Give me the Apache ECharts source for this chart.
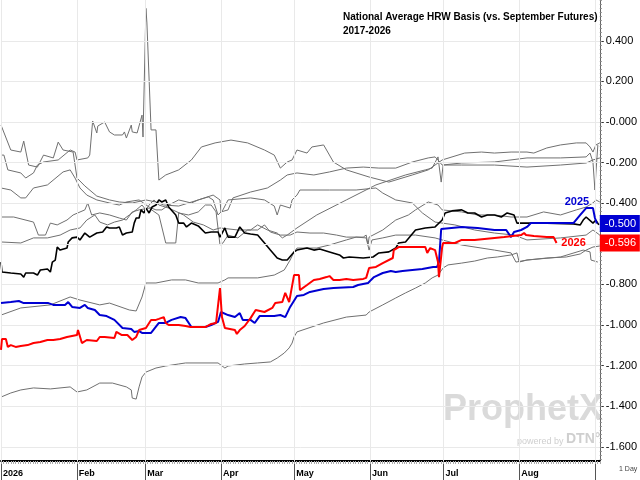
<!DOCTYPE html>
<html><head><meta charset="utf-8">
<script src="https://cdn.jsdelivr.net/npm/echarts@6/dist/echarts.min.js"></script>
<style>html,body{margin:0;padding:0;background:#fff}#c{width:640px;height:480px}</style>
</head><body><div id="c"></div>
<script>
// ---- axis / category data ----
const monthDays = [0, 31, 59, 90, 120, 151, 181, 212, 243];
const monthNames = ['2026', 'Feb', 'Mar', 'Apr', 'May', 'Jun', 'Jul', 'Aug', 'Sep'];
const yTicks = [0.4, 0.2, 0, -0.2, -0.4, -0.6, -0.8, -1.0, -1.2, -1.4, -1.6];

// ---- series values: [day of year, basis $/bu] ----
const s2017 = [[0,-0.015],[4,-0.138],[8.1,-0.148],[9.3,-0.094],[11.3,-0.212],[14.9,-0.222],[17.4,-0.163],[21.4,-0.177],[23.4,-0.099],[25.4,-0.138],[29.5,-0.148],[31.1,-0.276],[34.3,-0.315],[39.2,-0.365],[44.4,-0.384],[48.4,-0.394],[53.7,-0.399],[59.3,-0.384],[63.4,-0.394],[66.6,-0.409],[72.7,-0.414],[80.7,-0.384],[86.8,-0.360],[89.6,-0.384],[90,-0.443],[92.9,-0.433],[94.9,-0.374],[102.1,-0.345],[109,-0.325],[114.3,-0.286],[117.1,-0.261],[121.1,-0.251],[128,-0.261],[134.4,-0.246],[141.3,-0.227],[148.2,-0.222],[154.6,-0.227],[161.5,-0.227],[168.3,-0.197],[174.8,-0.177],[177.6,-0.172],[178.8,-0.187],[180.5,-0.212],[188.5,-0.202],[201.9,-0.197],[215.2,-0.177],[228.9,-0.177],[239.4,-0.172],[241,-0.153],[242.2,-0.197],[243,-0.335],[243.4,-0.251],[244.2,-0.113]];
const s2018 = [[0,-0.163],[1.2,-0.163],[2.8,-0.236],[8.1,-0.251],[10.1,-0.276],[13.3,-0.251],[14.9,-0.212],[17.4,-0.197],[23.4,-0.187],[28.3,-0.138],[30.3,-0.148],[31.1,-0.187],[35.5,-0.177],[36.3,-0.163],[37.5,0.005],[39.2,-0.054],[39.6,-0.020],[42.4,0],[44.4,-0.049],[46.4,-0.064],[49.7,-0.064],[50.5,-0.049],[51.3,-0.079],[53.3,-0.015],[53.7,-0.049],[55.7,-0.054],[56.5,-0.054],[57.7,0.034],[58.1,-0.074],[59.3,0.560],[59.7,0.488],[61.4,-0.039],[63.4,-0.039],[64.6,-0.286],[67.4,-0.261],[72.7,-0.236],[77.9,-0.187],[82,-0.123],[87.6,-0.103],[94.1,-0.089],[100.9,-0.103],[107.8,-0.138],[111.8,-0.163],[114.3,-0.227],[117.1,-0.197],[119.1,-0.187],[121.1,-0.138],[125.2,-0.153],[127.2,-0.123],[132,-0.113],[133.2,-0.138],[136,-0.197],[141.3,-0.236],[150.6,-0.271],[158.7,-0.296],[168.3,-0.261],[174.8,-0.236],[177.6,-0.212],[180.5,-0.187],[189.7,-0.153],[196.6,-0.148],[201.9,-0.153],[208.7,-0.148],[215.2,-0.148],[218,-0.153],[223.3,-0.128],[228.9,-0.113],[235.4,-0.103],[239.4,-0.103],[241,-0.123],[242.2,-0.148],[243.4,-0.113],[245,-0.103]];
const s2019 = [[0,-0.325],[4,-0.335],[8.1,-0.374],[10.1,-0.374],[13.3,-0.325],[19,-0.310],[25.4,-0.246],[28.3,-0.236],[30.3,-0.276],[32.3,-0.325],[35.1,-0.360],[39.2,-0.384],[44.4,-0.399],[48.4,-0.409],[51.3,-0.394],[56.5,-0.384],[60.6,-0.419],[63.4,-0.433],[65.8,-0.433],[68.6,-0.409],[72.7,-0.384],[77.9,-0.399],[80.7,-0.384],[84.8,-0.369],[86.8,-0.384],[88.8,-0.458],[90.8,-0.433],[92.9,-0.384],[102.1,-0.374],[107.8,-0.384],[111.8,-0.414],[113,-0.458],[114.3,-0.409],[118.3,-0.424],[119.1,-0.384],[121.1,-0.360],[122.3,-0.335],[134.4,-0.335],[145.3,-0.335],[153.4,-0.325],[156.2,-0.350],[161.5,-0.384],[168.3,-0.399],[172.4,-0.448],[177.6,-0.493],[180.5,-0.498],[185.7,-0.507],[193.8,-0.532],[201.9,-0.547],[209.9,-0.557],[215.2,-0.581],[228.9,-0.571],[239.4,-0.557],[242.2,-0.532],[245,-0.557]];
const s2020 = [[0,-0.468],[5.2,-0.468],[13.3,-0.493],[15.3,-0.557],[18.2,-0.557],[20.2,-0.498],[23,-0.507],[27,-0.483],[29.5,-0.458],[34.3,-0.433],[35.5,-0.399],[37.1,-0.458],[40.4,-0.448],[44.4,-0.458],[48.4,-0.473],[51.3,-0.483],[53.7,-0.443],[56.5,-0.433],[60.6,-0.424],[64.6,-0.458],[67.4,-0.596],[71.5,-0.596],[72.7,-0.448],[76.7,-0.458],[80.7,-0.443],[83.6,-0.409],[86,-0.409],[88,-0.443],[89.6,-0.606],[90.8,-0.596],[92.9,-0.557],[96.9,-0.571],[100.9,-0.532],[105,-0.532],[107.8,-0.507],[110.2,-0.542],[114.3,-0.557],[118.3,-0.557],[121.1,-0.542],[126.4,-0.547],[132,-0.547],[137.3,-0.557],[141.3,-0.567],[148.2,-0.567],[149.4,-0.557],[150.2,-0.606],[150.6,-0.567],[156.2,-0.532],[161.5,-0.483],[166.7,-0.458],[169.6,-0.433],[174.8,-0.394],[178.8,-0.409],[180.5,-0.433],[188.5,-0.443],[195,-0.458],[201.9,-0.458],[208.7,-0.468],[215.2,-0.468],[222,-0.443],[228.9,-0.458],[235.4,-0.433],[239.4,-0.419],[242.2,-0.399],[243.4,-0.384],[245,-0.394]];
const s2021 = [[0,-0.591],[8.1,-0.596],[13.3,-0.571],[19,-0.571],[24.2,-0.557],[28.3,-0.532],[32.3,-0.522],[35.1,-0.483],[38.4,-0.458],[40.4,-0.493],[43.6,-0.507],[46.4,-0.493],[49.7,-0.483],[52.5,-0.458],[55.3,-0.433],[57.7,-0.409],[59.3,-0.433],[60.6,-0.409],[62.6,-0.384],[64.6,-0.409],[68.6,-0.424],[74.7,-0.458],[78.7,-0.493],[82.8,-0.507],[86.8,-0.532],[89.6,-0.522],[96.9,-0.532],[102.1,-0.532],[105,-0.507],[109,-0.532],[113,-0.547],[115.1,-0.571],[117.1,-0.557],[121.1,-0.522],[129.2,-0.458],[141.3,-0.384],[153.4,-0.310],[165.5,-0.261],[173.6,-0.236],[176.4,-0.227],[178.8,-0.172],[180.1,-0.296],[180.9,-0.212],[188.5,-0.212],[201.9,-0.212],[215.2,-0.222],[228.9,-0.212],[239.4,-0.202],[242.2,-0.187],[245,-0.177]];
const s2022 = [[0,-0.951],[8.1,-0.916],[20.2,-0.901],[28.3,-0.862],[32.3,-0.877],[40.4,-0.901],[44.4,-0.892],[52.5,-0.926],[55.3,-0.931],[57.7,-0.862],[59.3,-0.793],[63.4,-0.793],[69.8,-0.778],[75.5,-0.778],[80.7,-0.793],[88.8,-0.793],[91.6,-0.778],[92.9,-0.768],[105,-0.768],[111.8,-0.754],[115.9,-0.729],[118.3,-0.680],[119.9,-0.640],[121.1,-0.621],[129.2,-0.621],[134.4,-0.606],[141.3,-0.581],[145.3,-0.567],[149.4,-0.571],[150.6,-0.631],[151.8,-0.581],[156.2,-0.571],[161.5,-0.557],[169.6,-0.557],[177.6,-0.571],[180.5,-0.581],[188.5,-0.606],[201.9,-0.631],[208.7,-0.645],[210.7,-0.690],[215.2,-0.680],[228.9,-0.665],[238.2,-0.631],[241,-0.640],[241.4,-0.680],[244.2,-0.690]];
const s2023 = [[0,-1.355],[4,-1.335],[8.1,-1.320],[13.3,-1.310],[20.2,-1.315],[28.3,-1.305],[31.1,-1.330],[35.1,-1.320],[40.4,-1.286],[45.6,-1.286],[51.3,-1.305],[53.3,-1.320],[53.7,-1.360],[55.3,-1.365],[56.5,-1.305],[57.7,-1.256],[59.3,-1.232],[63.4,-1.212],[67.4,-1.202],[72.7,-1.192],[75.5,-1.187],[88.8,-1.187],[91.6,-1.212],[92.9,-1.202],[99.7,-1.192],[105,-1.187],[110.2,-1.182],[113,-1.163],[115.9,-1.138],[117.9,-1.113],[119.1,-1.089],[119.9,-1.059],[121.1,-1.034],[132,-0.990],[141.3,-0.961],[149.4,-0.951],[150.6,-0.936],[156.2,-0.901],[161.5,-0.867],[165.5,-0.842],[169.6,-0.818],[173.6,-0.793],[176.4,-0.768],[178.8,-0.754],[180.9,-0.719],[182.9,-0.704],[188.5,-0.695],[193.8,-0.685],[199,-0.670],[203.1,-0.665],[208.7,-0.655],[211.1,-0.645],[212,-0.690],[215.2,-0.680],[223.3,-0.670],[231.3,-0.665],[237,-0.650],[239.4,-0.631],[242.2,-0.616],[245,-0.611]];
const s2024 = [[0,-0.690],[0.4,-0.739],[4,-0.744],[8.1,-0.749],[9.3,-0.764],[10.1,-0.744],[13.3,-0.744],[14.9,-0.754],[16.1,-0.729],[19,-0.724],[20.2,-0.739],[21,-0.690],[22.2,-0.680],[23,-0.616],[24.2,-0.631],[27,-0.621],[27.5,-0.591],[29.1,-0.571],[31.1,-0.567],[32.3,-0.581],[34.3,-0.547],[36.3,-0.567],[39.2,-0.547],[41.6,-0.542],[43.2,-0.517],[44.4,-0.522],[47.2,-0.522],[48.4,-0.517],[49.7,-0.557],[51.3,-0.547],[53.7,-0.542],[54.5,-0.498],[55.3,-0.473],[56.5,-0.473],[57.3,-0.433],[58.5,-0.448],[59.3,-0.424],[60.6,-0.448],[61.8,-0.419],[63.4,-0.409],[64.6,-0.384],[65.8,-0.394],[67.4,-0.384],[68.6,-0.419],[71.5,-0.458],[72.7,-0.498],[74.7,-0.498],[75.9,-0.517],[77.9,-0.498],[80.7,-0.512],[83.6,-0.547],[86,-0.542],[88.8,-0.542],[89.6,-0.567],[91.6,-0.522],[92.9,-0.567],[95.7,-0.567],[97.7,-0.517],[99.7,-0.547],[102.1,-0.552],[105,-0.557],[107.8,-0.596],[110.2,-0.631],[113,-0.670],[115.1,-0.680],[117.1,-0.680],[119.9,-0.640],[121.1,-0.631],[125.2,-0.621],[128,-0.631],[130.4,-0.626],[134.4,-0.640],[138.5,-0.655],[140.1,-0.670],[142.5,-0.665],[148.2,-0.670],[152.2,-0.665],[154.6,-0.645],[158.7,-0.640],[161.5,-0.621],[162.7,-0.596],[165.5,-0.591],[169.6,-0.532],[173.6,-0.522],[177.6,-0.517],[180.5,-0.483],[181.7,-0.448],[184.5,-0.438],[188.5,-0.433],[191,-0.448],[193.8,-0.448],[196.6,-0.468],[199,-0.458],[201.9,-0.458],[204.7,-0.468],[207.1,-0.448],[209.9,-0.458],[211.1,-0.498],[215.2,-0.498],[223.3,-0.498],[234.2,-0.502],[237,-0.507],[238.2,-0.483],[239.4,-0.468],[242.2,-0.498],[243.4,-0.483],[244.6,-0.507]];
const s2025 = [[0,-0.892],[4,-0.887],[7.3,-0.882],[9.3,-0.892],[13.3,-0.892],[19.4,-0.892],[21.4,-0.901],[26.2,-0.901],[27.5,-0.887],[29.1,-0.911],[32.3,-0.916],[34.3,-0.901],[35.5,-0.916],[38.4,-0.926],[40.4,-0.951],[43.2,-0.956],[46.4,-0.975],[49.7,-1.015],[53.3,-1.020],[54.5,-1.034],[56.5,-1.030],[57.7,-1.039],[61.4,-1.039],[64.6,-0.990],[67.4,-0.990],[69.8,-0.975],[73.5,-0.961],[75.5,-0.966],[77.9,-1.010],[83.6,-1.010],[86,-1.000],[88.8,-0.985],[90,-0.936],[92.9,-0.951],[95.7,-0.961],[97.7,-0.941],[98.9,-0.975],[102.1,-0.975],[103.8,-0.990],[105.8,-0.956],[111.8,-0.956],[114.3,-0.951],[116.3,-0.961],[118.3,-0.911],[121.1,-0.857],[123.9,-0.852],[126.4,-0.837],[132,-0.823],[136,-0.818],[144.1,-0.813],[146.1,-0.803],[150.2,-0.793],[151.4,-0.778],[152.6,-0.764],[156.2,-0.744],[159.5,-0.734],[161.5,-0.739],[164.3,-0.734],[168.3,-0.729],[172.4,-0.724],[176.8,-0.714],[178.4,-0.714],[179.2,-0.690],[180.1,-0.527],[180.5,-0.522],[188.5,-0.517],[195,-0.522],[201.9,-0.532],[206.7,-0.532],[208.7,-0.567],[209.9,-0.542],[212.8,-0.532],[215.2,-0.517],[216.8,-0.498],[223.3,-0.498],[234.2,-0.498],[237,-0.458],[239.4,-0.424],[242.2,-0.424],[243,-0.473],[243.8,-0.500]];
const s2026 = [[0,-1.123],[0.4,-1.069],[2,-1.069],[2.8,-1.108],[4,-1.099],[6,-1.108],[8.1,-1.103],[10.9,-1.099],[13.3,-1.089],[16.1,-1.084],[19,-1.074],[21.4,-1.074],[24.2,-1.069],[27,-1.059],[31.1,-1.049],[31.5,-1.025],[33.1,-1.089],[35.1,-1.074],[39.2,-1.079],[40.4,-1.059],[42.4,-1.059],[46.4,-1.064],[47.2,-1.034],[49.3,-1.049],[51.7,-1.049],[53.7,-1.074],[55.3,-1.059],[56.5,-1.025],[59.3,-1.015],[61.4,-0.975],[63.4,-0.975],[64.6,-0.970],[66.6,-0.961],[67.4,-0.990],[68.6,-1.000],[72.7,-1.000],[75.5,-1.005],[77.5,-1.010],[80.7,-1.010],[83.6,-1.010],[86,-0.995],[88,-0.990],[89.6,-0.818],[90.4,-0.961],[91.6,-1.015],[95.7,-1.025],[96.5,-1.044],[97.7,-1.025],[99.7,-1.005],[102.1,-0.966],[104.2,-0.926],[107.8,-0.936],[111,-0.916],[112.2,-0.892],[115.1,-0.887],[116.3,-0.842],[117.9,-0.887],[119.9,-0.754],[121.9,-0.754],[122.3,-0.828],[125.2,-0.803],[128,-0.778],[130.4,-0.773],[133.2,-0.764],[134.4,-0.759],[136,-0.778],[138.5,-0.778],[141.3,-0.773],[144.1,-0.778],[148.2,-0.773],[149.4,-0.768],[150.6,-0.719],[153.4,-0.714],[156.2,-0.695],[160.3,-0.670],[160.7,-0.631],[162.7,-0.616],[166.7,-0.616],[170.8,-0.616],[173.6,-0.616],[174.4,-0.645],[175.6,-0.621],[177.6,-0.631],[178.8,-0.690],[179.2,-0.764],[180.5,-0.616],[180.9,-0.596],[185.7,-0.596],[188.5,-0.581],[193.8,-0.581],[197.8,-0.576],[201.9,-0.571],[205.9,-0.567],[212.8,-0.557],[214,-0.547],[214.8,-0.557],[218,-0.562],[223.3,-0.567],[226.1,-0.567],[227.3,-0.596]];

// ---- chart ----
const X_MAX = 245, Y_MIN = -1.670, Y_MAX = 0.601;
const fmt = v => (v <= 0.00001 ? '-' : '') + Math.abs(v).toFixed(3);
const minorY = [];
for (let i = -83; i <= 30; i++) minorY.push(+(i * 0.02).toFixed(2));
const gridLines = monthDays.map(d => ({ xAxis: d })).concat(yTicks.map(v => ({ yAxis: v })));

function line(name, data, color, width, z) {
  return { name, type: 'line', data, symbol: 'none', showSymbol: false, z: z,
    lineStyle: { color, width }, emphasis: { disabled: true }, animation: false };
}
const blueLast = s2025[s2025.length - 1];
const redLast = s2026[s2026.length - 1];

const grays = [s2017, s2018, s2019, s2020, s2021, s2022, s2023].map((d, i) => line(String(2017 + i), d, '#707070', 1, 3));
const black = line('2024', s2024, '#000000', 1.6, 4);
const blue = line('2025', s2025, '#0000d2', 2, 5);
blue.markPoint = { silent: true, animation: false, data: [
  { coord: [X_MAX, blueLast[1]], value: blueLast[1], symbol: 'rect', symbolSize: [40, 17], symbolOffset: [20, 0],
    itemStyle: { color: '#0000d2' },
    label: { show: true, position: 'insideLeft', distance: 5, formatter: p => fmt(p.value), color: '#fff', fontSize: 11, fontFamily: 'Liberation Sans' } },
  { coord: blueLast, symbol: 'circle', symbolSize: 0,
    label: { show: true, formatter: '2025', offset: [-20, -22], color: '#0000d2', fontWeight: 'bold', fontSize: 11, fontFamily: 'Liberation Sans' } }
] };
const red = line('2026', s2026, '#ff0000', 2, 6);
red.markPoint = { silent: true, animation: false, data: [
  { coord: [X_MAX, redLast[1]], value: redLast[1], symbol: 'rect', symbolSize: [40, 17], symbolOffset: [20, 0],
    itemStyle: { color: '#ff0000' },
    label: { show: true, position: 'insideLeft', distance: 5, formatter: p => fmt(p.value), color: '#fff', fontSize: 11, fontFamily: 'Liberation Sans' } },
  { coord: redLast, symbol: 'circle', symbolSize: 0,
    label: { show: true, formatter: '2026', offset: [17, 0], color: '#ff0000', fontWeight: 'bold', fontSize: 11, fontFamily: 'Liberation Sans' } }
] };

const gridSeries = { type: 'line', data: [], z: 1, silent: true,
  markLine: { silent: true, animation: false, symbol: ['none', 'none'], label: { show: false },
    lineStyle: { color: '#e9e9e9', type: 'solid', width: 1 }, emphasis: { disabled: true }, data: gridLines } };

const chart = echarts.init(document.getElementById('c'));
chart.setOption({
  animation: false,
  backgroundColor: '#ffffff',
  grid: { left: 0, right: 33, top: 0, bottom: 19 },
  title: { text: 'National Average HRW Basis (vs. September Futures)\n2017-2026', left: 338, top: 5,
    textStyle: { fontFamily: 'Liberation Sans', fontWeight: 'bold', fontSize: 10, lineHeight: 14, color: '#000' } },
  xAxis: [
    { type: 'value', min: 0, max: X_MAX,
      axisLine: { show: true, onZero: false, lineStyle: { color: '#000', width: 2 } },
      axisTick: { show: true, customValues: monthDays, length: 19, lineStyle: { color: '#555' } },
      axisLabel: { customValues: monthDays.slice(0, 8), formatter: v => monthNames[monthDays.indexOf(v)],
        align: 'left', padding: [0, 0, 0, 2], margin: 8, fontFamily: 'Liberation Sans', fontWeight: 'bold', fontSize: 9, color: '#000' },
      splitLine: { show: false } },
    { type: 'value', position: 'bottom', min: 0, max: X_MAX, interval: 1,
      axisLine: { show: false, onZero: false }, axisTick: { show: true, length: 3, lineStyle: { color: '#aaa' } },
      axisLabel: { show: false }, splitLine: { show: false } }
  ],
  yAxis: [
    { type: 'value', position: 'right', min: Y_MIN, max: Y_MAX,
      axisLine: { show: true, onZero: false, lineStyle: { color: '#666' } },
      axisTick: { show: true, customValues: yTicks, length: 4, lineStyle: { color: '#333' } },
      axisLabel: { customValues: yTicks, formatter: fmt, margin: 6, fontSize: 11, color: '#000', fontFamily: 'Liberation Sans' },
      splitLine: { show: false } },
    { type: 'value', position: 'right', min: Y_MIN, max: Y_MAX,
      axisLine: { show: false, onZero: false },
      axisTick: { show: true, customValues: minorY, length: 2, lineStyle: { color: '#888' } },
      axisLabel: { show: false }, splitLine: { show: false } }
  ],
  graphic: [
    { type: 'text', left: 443, top: 392, z: 0, silent: true,
      style: { text: 'ProphetX', font: 'bold 36px "Liberation Sans"', fill: '#dadada' } },
    { type: 'text', left: 517, top: 437, z: 0, silent: true,
      style: { text: 'powered by', font: '9px "Liberation Sans"', fill: '#cfcfcf' } },
    { type: 'text', left: 566, top: 432, z: 0, silent: true,
      style: { text: 'DTN°', font: 'bold 14px "Liberation Sans"', fill: '#cfcfcf' } },
    { type: 'text', left: 619, top: 466, z: 0, silent: true,
      style: { text: '1 Day', font: '7px "Liberation Sans"', fill: '#444' } }
  ],
  series: [gridSeries].concat(grays, [black, blue, red])
});
</script></body></html>
